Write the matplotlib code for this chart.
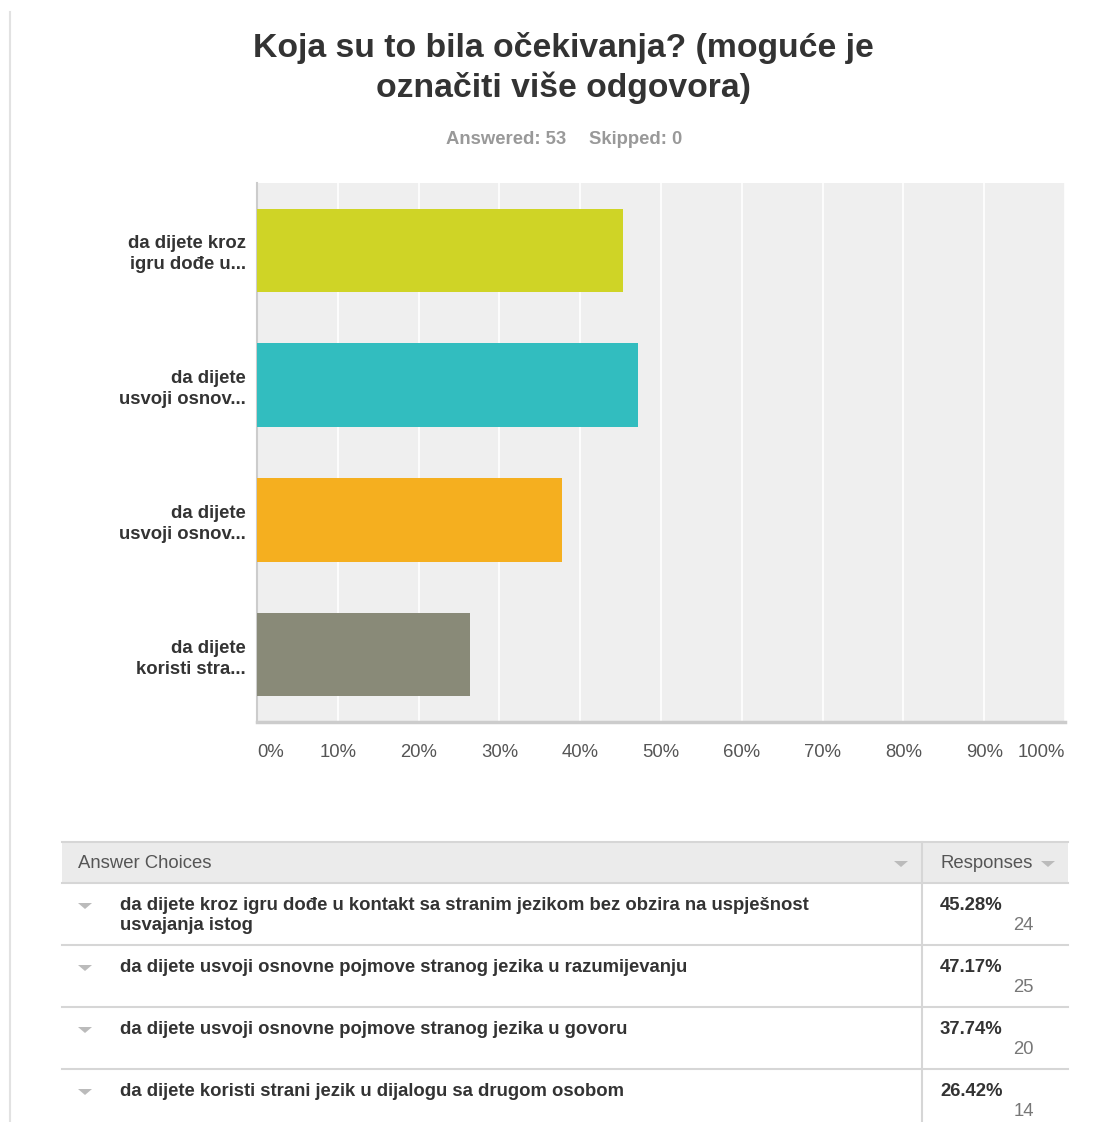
import matplotlib.pyplot as plt
from matplotlib.patches import Rectangle, Polygon

plt.rcParams['font.family'] = ['Liberation Sans', 'DejaVu Sans']

# chart data
labels = ['da dijete kroz\nigru dođe u...', 'da dijete\nusvoji osnov...',
          'da dijete\nusvoji osnov...', 'da dijete\nkoristi stra...']
percents = [45.28, 47.17, 37.74, 26.42]
counts = [24, 25, 20, 14]
colors = ['#cfd426', '#32bdbf', '#f5af1f', '#898a78']
full_choices = ['da dijete kroz igru dođe u kontakt sa stranim jezikom bez obzira na uspješnost\nusvajanja istog',
                'da dijete usvoji osnovne pojmove stranog jezika u razumijevanju',
                'da dijete usvoji osnovne pojmove stranog jezika u govoru',
                'da dijete koristi strani jezik u dijalogu sa drugom osobom']
xticks = [0, 10, 20, 30, 40, 50, 60, 70, 80, 90, 100]

FS = 13.3
W, H = 1106, 1122
fig = plt.figure(figsize=(W / 100, H / 100), dpi=100)

# overlay for page furniture, in pixel coordinates
bg = fig.add_axes([0, 0, 1, 1])
bg.set_xlim(0, W)
bg.set_ylim(H, 0)
bg.axis('off')

# bar chart axes
x0, x1, y0, y1 = 257, 1065, 183, 722
ax = fig.add_axes([x0 / W, 1 - y1 / H, (x1 - x0) / W, (y1 - y0) / H])
ax.set_facecolor('#efefef')
ypos = list(range(len(labels)))
ax.barh(ypos, percents, height=0.62, color=colors, zorder=3)
ax.set_xlim(0, 100)
ax.set_ylim(len(labels) - 0.5, -0.5)
ax.set_yticks(ypos)
ax.set_yticklabels(labels, fontsize=FS, fontweight='bold', color='#333333',
                   linespacing=1.3)
ax.set_xticks(xticks)
ax.set_xticklabels([f'{t}%' for t in xticks], fontsize=FS, color='#555555')
tl = ax.get_xticklabels()
tl[0].set_ha('left')
tl[-1].set_ha('right')
ax.tick_params(axis='both', length=0)
ax.tick_params(axis='x', pad=16)
ax.tick_params(axis='y', pad=8)
ax.grid(axis='x', color='white', linewidth=1.2, zorder=1)
for s in ['top', 'right']:
    ax.spines[s].set_visible(False)
ax.spines['left'].set_color('#cccccc')
ax.spines['left'].set_linewidth(1.5)
ax.spines['bottom'].set_color('#cccccc')
ax.spines['bottom'].set_linewidth(2.5)

# title and subtitle
bg.text(563, 48, 'Koja su to bila očekivanja? (moguće je', ha='center', va='center',
        fontsize=24.3, fontweight='bold', color='#333333')
bg.text(563, 88, 'označiti više odgovora)', ha='center', va='center',
        fontsize=24.3, fontweight='bold', color='#333333')
bg.text(506, 139, 'Answered: 53', ha='center', va='center', fontsize=FS,
        fontweight='bold', color='#999999')
bg.text(636, 139, 'Skipped: 0', ha='center', va='center', fontsize=FS,
        fontweight='bold', color='#999999')

# left page rule
bg.plot([10, 10], [12, H], color='#e2e2e2', linewidth=1.5)

# table
tx0, tx1, tdiv = 62, 1068, 922
bg.add_patch(Rectangle((tx0, 842), tx1 - tx0, 41, facecolor='#ebebeb', edgecolor='none'))
bg.plot([tx0, tx1], [842, 842], color='#d6d6d6', linewidth=1.5)
bg.plot([tx0, tx1], [883, 883], color='#d6d6d6', linewidth=1.5)
bg.plot([tdiv, tdiv], [842, H], color='#d6d6d6', linewidth=1.5)
bg.text(78, 863, 'Answer Choices', ha='left', va='center', fontsize=FS, color='#555555')
bg.text(940, 863, 'Responses', ha='left', va='center', fontsize=FS, color='#555555')


def tri(x, y, c='#bbbbbb'):
    bg.add_patch(Polygon([[x - 7, y - 3], [x + 7, y - 3], [x, y + 3]],
                         closed=True, facecolor=c, edgecolor='none'))


tri(901, 864)
tri(1048, 864)

row_h = 62
for i, (txt, p, n) in enumerate(zip(full_choices, percents, counts)):
    top = 883 + i * row_h
    if i > 0:
        bg.plot([tx0, tx1], [top, top], color='#d6d6d6', linewidth=1.5)
    tri(85, top + 23)
    bg.text(120, top + 14, txt, ha='left', va='top', fontsize=FS, fontweight='bold',
            color='#333333', linespacing=1.2)
    bg.text(940, top + 22, f'{p:.2f}%', ha='left', va='center', fontsize=FS,
            fontweight='bold', color='#333333')
    bg.text(1034, top + 42, str(n), ha='right', va='center', fontsize=FS, color='#777777')

fig.savefig('out.png', dpi=100)
